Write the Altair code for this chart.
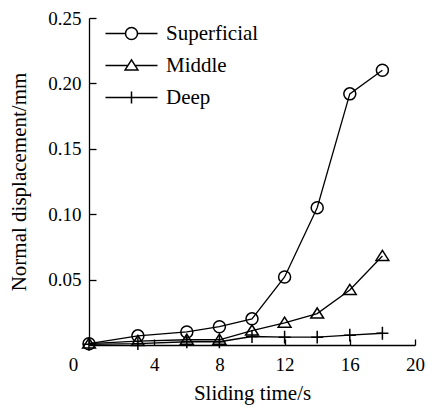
import altair as alt
import pandas as pd

# ---- data ----
time_s = [0, 3, 6, 8, 10, 12, 14, 16, 18]
superficial = [0.001, 0.007, 0.010, 0.014, 0.020, 0.052, 0.105, 0.192, 0.210]
middle = [0.001, 0.003, 0.004, 0.004, 0.011, 0.017, 0.024, 0.042, 0.068]
deep = [0.0005, 0.001, 0.0025, 0.0025, 0.0065, 0.006, 0.006, 0.0075, 0.009]
series_names = ["Superficial", "Middle", "Deep"]
x_ticks = [0, 4, 8, 12, 16, 20]
y_ticks = [0.05, 0.10, 0.15, 0.20, 0.25]

rows = []
for name, vals in zip(series_names, [superficial, middle, deep]):
    for t, v in zip(time_s, vals):
        rows.append({"time": t, "disp": v, "layer": name})
df = pd.DataFrame(rows)

FONT = "'Liberation Serif', 'Times New Roman', Times, 'DejaVu Serif', serif"

circle = "M0.75,0A0.75,0.75 0 1,1 -0.75,0A0.75,0.75 0 1,1 0.75,0Z"
triangle = "M0,-0.7L0.8,0.55L-0.8,0.55Z"
plus = "M-0.75,0H0.75M0,-0.8V0.8"
marker_paths = [circle, triangle, plus]
legend_paths = [
    "M-3.25,0H-0.75M0.75,0H3.25" + circle,
    "M-3.25,0H-0.45M0.45,0H3.25" + triangle,
    "M-3.25,0H3.25M0,-0.75V0.75",
]

x_axis = alt.Axis(
    values=x_ticks, format="d", title="Sliding time/s",
    labelFlush=False, labelOverlap=False,
    tickSize={"expr": "-6"}, tickWidth=1.3, tickColor="black",
    domainColor="black", domainWidth=1.3,
    labelFont=FONT, labelFontSize=19, labelColor="black", labelPadding=16,
    labelOffset={"condition": {"test": "datum.value === 0", "value": -16}, "value": 0},
    titleFont=FONT, titleFontSize=21, titleFontWeight="normal", titleColor="black",
    titlePadding=8, grid=False,
)
y_axis = alt.Axis(
    values=y_ticks, format=".2f", title="Normal displacement/mm",
    labelFlush=False, labelOverlap=False,
    tickSize={"expr": "-7"}, tickWidth=1.3, tickColor="black",
    domainColor="black", domainWidth=1.3,
    labelFont=FONT, labelFontSize=19, labelColor="black", labelPadding=15,
    titleFont=FONT, titleFontSize=21, titleFontWeight="normal", titleColor="black",
    titlePadding=18, grid=False,
)

x_enc = alt.X("time:Q", scale=alt.Scale(domain=[0, 20], nice=False), axis=x_axis)
y_enc = alt.Y("disp:Q", scale=alt.Scale(domain=[0, 0.25], nice=False), axis=y_axis)

lines = alt.Chart(df).mark_line(color="black", strokeWidth=1.3).encode(
    x=x_enc, y=y_enc, detail="layer:N"
)
points = alt.Chart(df).mark_point(
    filled=False, color="black", strokeWidth=1.5, size=256, opacity=1
).encode(
    x=x_enc, y=y_enc,
    shape=alt.Shape("layer:N", scale=alt.Scale(domain=series_names, range=marker_paths), legend=None),
)
legend_layer = alt.Chart(df).mark_point(
    filled=False, color="black", strokeWidth=1.5, size=256, opacity=0
).encode(
    x=x_enc, y=y_enc,
    shape=alt.Shape(
        "layer:N",
        scale=alt.Scale(domain=series_names, range=legend_paths),
        legend=alt.Legend(
            title=None, orient="none", legendX=32, legendY=5, padding=0,
            symbolSize=256, symbolStrokeWidth=1.5, symbolStrokeColor="black",
            symbolFillColor="transparent", symbolOpacity=1,
            labelFont=FONT, labelFontSize=21, labelColor="black",
            labelOffset=24, rowPadding=10,
        ),
    ),
)

chart = (
    alt.layer(lines, points, legend_layer)
    .resolve_scale(shape="independent")
    .properties(
        width=326, height=327, autosize="none",
        padding={"left": 81, "top": 10, "right": 10, "bottom": 61},
        background="white",
    )
    .configure_view(stroke=None)
)

chart.save("out.html", embed_options={"renderer": "svg", "actions": False})
